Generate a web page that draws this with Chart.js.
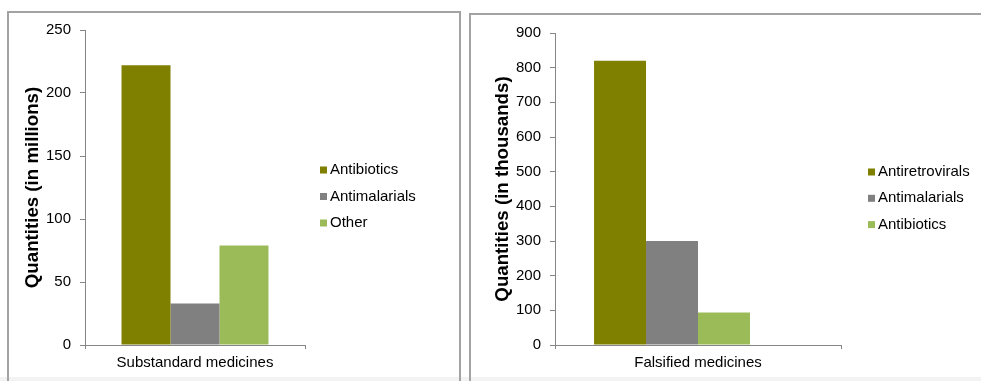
<!DOCTYPE html>
<html>
<head>
<meta charset="utf-8">
<script src="https://cdn.jsdelivr.net/npm/chart.js@4.4.1/dist/chart.umd.min.js"></script>
<style>
  body { margin: 0; background: #fff; width: 981px; height: 381px; overflow: hidden; position: relative; }
  .panel { position: absolute; border: 2px solid #a3a3a3; box-sizing: border-box; }
  .strip { position: absolute; left: 0; top: 377px; width: 981px; height: 4px; background: #f3f3f3; }
  canvas { position: absolute; }
</style>
</head>
<body>
<div class="strip"></div>
<div class="panel" style="left:7px;top:11px;width:454px;height:400px"></div>
<div class="panel" style="left:469px;top:13px;width:530px;height:400px"></div>
<canvas id="substandardChart" width="452" height="369" style="left:8px;top:12px"></canvas>
<canvas id="falsifiedChart" width="510" height="366" style="left:471px;top:15px"></canvas>
<script>
// left chart: substandard medicines, quantities in millions
var substandardCategories = ["Substandard medicines"];
var substandardSeries = ["Antibiotics", "Antimalarials", "Other"];
var substandardValues = [222, 33, 79];
var substandardTicks = [0, 50, 100, 150, 200, 250];

// right chart: falsified medicines, quantities in thousands (4th slot is an empty series)
var falsifiedCategories = ["Falsified medicines"];
var falsifiedSeries = ["Antiretrovirals", "Antimalarials", "Antibiotics", ""];
var falsifiedValues = [820, 300, 94, null];
var falsifiedTicks = [0, 100, 200, 300, 400, 500, 600, 700, 800, 900];

var barColors = ["#7f7f00", "#808080", "#9bbb59", "#4bacc6"];
var axisColor = "#868686";
var fontFamily = '"Liberation Sans", Arial, sans-serif';

Chart.defaults.font.family = fontFamily;
Chart.defaults.color = "#000";

// legend drawn beside the plot, Excel style (small square + label)
var sideLegend = {
  id: "sideLegend",
  afterDraw: function (chart, args, opts) {
    var ctx = chart.ctx;
    ctx.save();
    ctx.font = "15px " + fontFamily;
    ctx.textBaseline = "middle";
    chart.data.datasets.forEach(function (ds, i) {
      if (!ds.label) return;
      var y = opts.y + i * opts.spacing;
      ctx.fillStyle = ds.backgroundColor;
      ctx.fillRect(opts.x, y - 3.5, 7, 7);
      ctx.fillStyle = "#000";
      ctx.fillText(ds.label, opts.x + 10, y);
    });
    ctx.restore();
  },
};

function makeChart(id, categories, series, values, ticks, yTitle, o) {
  var ctx = document.getElementById(id).getContext("2d");
  return new Chart(ctx, {
    type: "bar",
    data: {
      labels: categories,
      datasets: series.map(function (name, i) {
        return {
          label: name,
          data: [values[i]],
          backgroundColor: barColors[i],
          borderWidth: 0,
          barPercentage: 1,
          categoryPercentage: o.catPct,
        };
      }),
    },
    plugins: [sideLegend],
    options: {
      responsive: false,
      animation: false,
      layout: { padding: { top: o.padTop, right: o.padRight, bottom: 0, left: 0 } },
      plugins: {
        tooltip: { enabled: false },
        legend: { display: false },
        sideLegend: { x: o.legX, y: o.legY, spacing: o.legGap },
      },
      scales: {
        x: {
          grid: { drawOnChartArea: false, tickLength: 4, color: axisColor, offset: true },
          border: { color: axisColor },
          ticks: { padding: 5, font: { size: 15 }, color: "#000" },
          afterFit: function (s) { s.height = o.xHeight; },
        },
        y: {
          min: ticks[0],
          max: ticks[ticks.length - 1],
          grid: { drawOnChartArea: false, tickLength: 5, color: axisColor },
          border: { color: axisColor },
          ticks: { stepSize: ticks[1] - ticks[0], padding: 9, font: { size: 15 }, color: "#000" },
          title: {
            display: true,
            text: yTitle,
            color: "#000",
            font: { size: 18.7, weight: "bold" },
            padding: { top: o.titlePad, bottom: 0 },
          },
          afterFit: function (s) { s.width = o.yWidth; },
        },
      },
    },
  });
}

document.addEventListener("DOMContentLoaded", function () {
  makeChart("substandardChart", substandardCategories, substandardSeries, substandardValues,
    substandardTicks, "Quantities (in millions)",
    { padTop: 18, padRight: 155, yWidth: 77, xHeight: 36, titlePad: 14, catPct: 0.668,
      legX: 312, legY: 158, legGap: 26.5 });
  makeChart("falsifiedChart", falsifiedCategories, falsifiedSeries, falsifiedValues,
    falsifiedTicks, "Quantities (in thousands)",
    { padTop: 17, padRight: 140, yWidth: 84, xHeight: 36, titlePad: 21, catPct: 0.727,
      legX: 397, legY: 157, legGap: 26.3 });
});
</script>
</body>
</html>
